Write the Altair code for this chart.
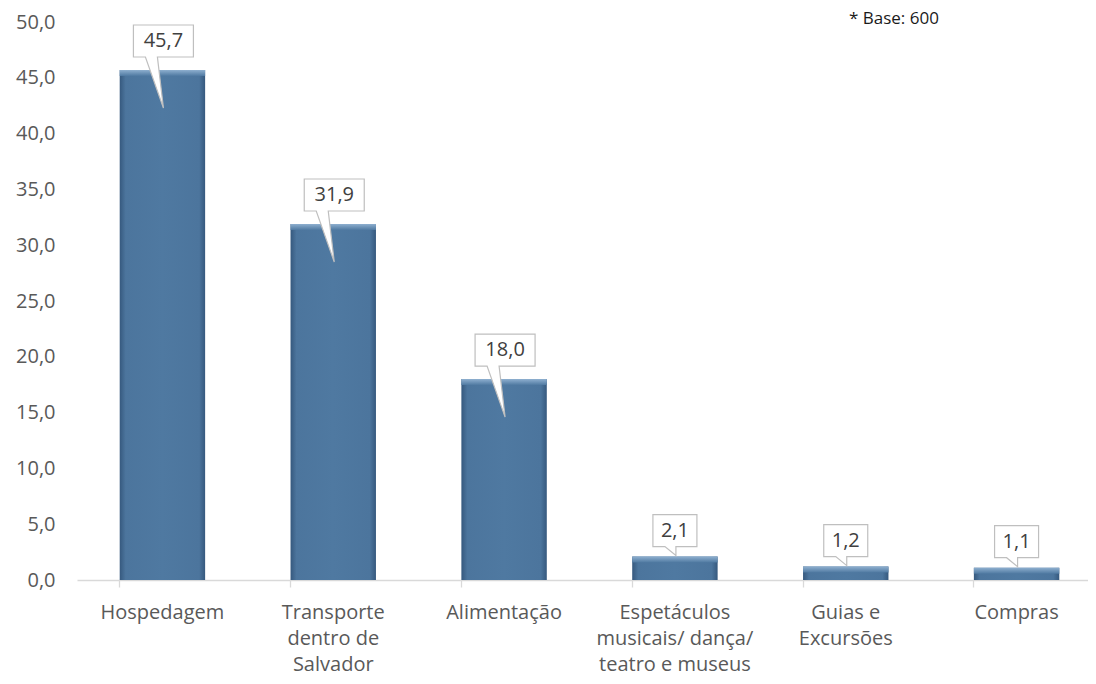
import altair as alt
import pandas as pd

categories = [
    "Hospedagem",
    "Transporte\ndentro de\nSalvador",
    "Alimentação",
    "Espetáculos\nmusicais/ dança/\nteatro e museus",
    "Guias e\nExcursões",
    "Compras",
]
values = [45.7, 31.9, 18.0, 2.1, 1.2, 1.1]
y_ticks = [0, 5, 10, 15, 20, 25, 30, 35, 40, 45, 50]
base_note = "* Base: 600"

df = pd.DataFrame({"cat": categories, "value": values})

FONT = "Open Sans"
GRAY = "#595959"

x_enc = alt.X(
    "cat:N",
    sort=categories,
    scale=alt.Scale(range=[0, 1025], paddingInner=0.5, paddingOuter=0.25),
    axis=alt.Axis(
        title=None,
        labelAngle=0,
        labelFont=FONT,
        labelFontSize=20,
        labelColor=GRAY,
        labelLineHeight=26,
        labelPadding=15,
        labelExpr="split(datum.label, '\\n')",
        domainColor="#d9d9d9",
        domainWidth=1.3,
        tickColor="#d9d9d9",
        tickWidth=1.3,
        tickSize=7,
        bandPosition=0,
        labelBound=False,
        labelOverlap=False,
    ),
)
y_enc = alt.Y(
    "value:Q",
    scale=alt.Scale(domain=[0, 50], nice=False),
    axis=alt.Axis(
        title=None,
        values=y_ticks,
        labelExpr="replace(format(datum.value, '.1f'), '.', ',')",
        labelFont=FONT,
        labelFontSize=20,
        labelColor=GRAY,
        labelPadding=22,
        ticks=False,
        domain=False,
        grid=False,
    ),
)

base = alt.Chart(df)

bar_grad = alt.Gradient(
    gradient="linear",
    x1=0, x2=1, y1=0, y2=0,
    stops=[
        alt.GradientStop(color="#36597e", offset=0),
        alt.GradientStop(color="#4c759d", offset=0.07),
        alt.GradientStop(color="#4f79a1", offset=0.5),
        alt.GradientStop(color="#4c759d", offset=0.93),
        alt.GradientStop(color="#36597e", offset=1),
    ],
)
bars = base.mark_bar(color=bar_grad).encode(x=x_enc, y=y_enc)

bevel_grad = alt.Gradient(
    gradient="linear",
    x1=0, x2=0, y1=0, y2=1,
    stops=[
        alt.GradientStop(color="#8eafcf", offset=0),
        alt.GradientStop(color="#4f79a1", offset=1),
    ],
)
bevel = base.mark_bar(color=bevel_grad, y2Offset=6).encode(
    x=x_enc, y=y_enc, y2=alt.Y2("value:Q")
)

tall_path = "M-29,-45 L31,-45 L31,-13 L-5,-13 L1,38 L-17,-13 L-29,-13 Z"
short_path = "M-22,-42 L22,-42 L22,-10 L1,-10 L1,-1 L-10,-10 L-22,-10 Z"

callout_style = dict(
    size=4, filled=True, fill="white", stroke="#bfbfbf",
    strokeWidth=1.2, opacity=1, fillOpacity=1, strokeOpacity=1,
)
tall_box = base.transform_filter("datum.value > 10").mark_point(
    shape=tall_path, **callout_style
).encode(x=x_enc, y=y_enc)
short_box = base.transform_filter("datum.value <= 10").mark_point(
    shape=short_path, **callout_style
).encode(x=x_enc, y=y_enc)

lab = "replace(format(datum.value, '.1f'), '.', ',')"
tall_text = base.transform_filter("datum.value > 10").transform_calculate(
    lbl=lab
).mark_text(
    font=FONT, fontSize=20, color="#404040", dy=-29, dx=1, baseline="middle"
).encode(x=x_enc, y=y_enc, text="lbl:N")
short_text = base.transform_filter("datum.value <= 10").transform_calculate(
    lbl=lab
).mark_text(
    font=FONT, fontSize=20, color="#404040", dy=-26, dx=0, baseline="middle"
).encode(x=x_enc, y=y_enc, text="lbl:N")

note = alt.Chart(pd.DataFrame({"t": [base_note]})).mark_text(
    font=FONT, fontSize=17, color="#1a1a1a", align="left", baseline="middle"
).encode(text="t:N", x=alt.value(772), y=alt.value(-3))

chart = alt.layer(
    bars, bevel, tall_box, short_box, tall_text, short_text, note
).properties(
    width=1011,
    height=558,
    autosize=alt.AutoSizeParams(type="none"),
    padding={"left": 69, "top": 14, "right": 0, "bottom": 96},
).configure_view(stroke=None)

chart.save("out.html", embed_options={"renderer": "svg", "actions": False})
